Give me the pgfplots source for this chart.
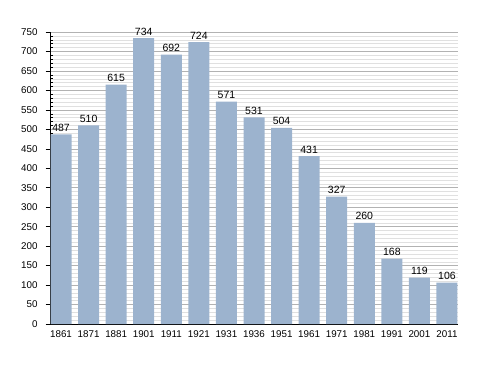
\documentclass[border=0pt]{standalone}
\usepackage{pgfplots}
\pgfplotsset{compat=1.18}
\usepackage{fontspec}
\setmainfont{Liberation Sans}
\definecolor{barc}{HTML}{9CB3CE}
\begin{document}
\begin{tikzpicture}[x=1pt,y=1pt]
\path[use as bounding box] (0,0) rectangle (488,373);
\begin{axis}[
  at={(50pt,49pt)}, anchor=south west,
  scale only axis, width=408pt, height=292pt,
  ymin=0, ymax=750,
  xmin=-0.4, xmax=14.4,
  axis x line*=bottom, axis y line*=left,
  ytick distance=50, minor y tick num=4,
  ymajorgrids, yminorgrids,
  major grid style={color=black!30, line width=0.5pt},
  minor grid style={color=black!12, line width=0.4pt},
  xtick=data,
  xticklabels={1861,1871,1881,1901,1911,1921,1931,1936,1951,1961,1971,1981,1991,2001,2011},
  x tick style={draw=none},
  y tick style={black, line width=0.5pt},
  major tick length=4.5pt, minor tick length=3pt,
  minor y tick style={xshift=3pt},
  tick align=outside,
  tick label style={font=\fontsize{9.8}{11}\selectfont},
  /pgf/number format/assume math mode=true,
  yticklabel style={xshift=-4.5pt},
  xticklabel style={yshift=1pt},
  axis line style={black, line width=0.7pt},
  nodes near coords,
  nodes near coords style={font=\fontsize{10.5}{12}\selectfont, black, yshift=-0.5pt},
]
\addplot[ybar, bar width=21pt, fill=barc, draw=none] coordinates {
(0,487) (1,510) (2,615) (3,734) (4,692) (5,724) (6,571) (7,531) (8,504) (9,431) (10,327) (11,260) (12,168) (13,119) (14,106)};
\end{axis}
\end{tikzpicture}
\end{document}
